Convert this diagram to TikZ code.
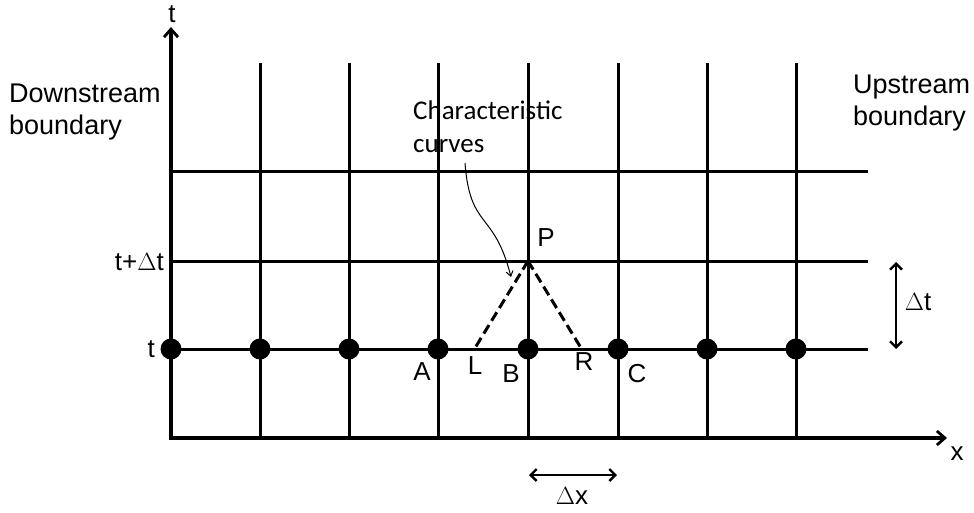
\documentclass[tikz,border=0pt]{standalone}
\usepackage{fontspec}
\setmainfont{Liberation Sans}
\newfontfamily\calib{Carlito}
\usetikzlibrary{arrows.meta}
\begin{document}
\begin{tikzpicture}[x=1pt,y=-1pt,
  grid/.style={line width=3pt},
  axis/.style={line width=3.6pt,-{Straight Barb[length=8pt,width=14pt,line width=2.8pt]}},
  dim/.style={line width=2.8pt,{Straight Barb[length=6pt,width=12pt,line width=2.4pt]}-{Straight Barb[length=6pt,width=12pt,line width=2.4pt]}},
  dot/.style={circle,fill=black,inner sep=0pt,minimum size=21pt},
  lab/.style={font=\fontsize{26}{30}\selectfont,inner sep=0pt},
  big/.style={font=\fontsize{27}{32}\selectfont,inner sep=0pt,align=left}]
\useasboundingbox (0,0) rectangle (974,512);
% grid
\foreach \i/\x in {1/260,2/349,3/438,4/528,5/618,6/707,7/796}{
  \coordinate (vt\i) at (\x,63);
  \coordinate (vb\i) at (\x,438);
  \draw[grid] (vt\i) -- (vb\i);
}
\foreach \j/\y in {1/171,2/261,3/349}{
  \coordinate (hl\j) at (171,\y);
  \coordinate (hr\j) at (868,\y);
  \draw[grid] (hl\j) -- (hr\j);
}
% axes
\coordinate (O) at (171,439.8);
\coordinate (tend) at (171,27);
\coordinate (xstart) at (169.2,438);
\coordinate (xend) at (947,438);
\draw[axis] (O) -- (tend);
\draw[axis] (xstart) -- (xend);
% dots
\foreach \i/\x in {0/171,1/260,2/349,3/438,4/528,5/618,6/707,7/796}{
  \node[dot] (d\i) at (\x,349) {};
}
% characteristic lines
\coordinate (P) at (528,261);
\coordinate (L) at (475,348);
\coordinate (R) at (581,348);
\draw[line width=3pt,dash pattern=on 10pt off 5pt] (P) -- (L);
\draw[line width=3pt,dash pattern=on 10pt off 5pt] (P) -- (R);
% labels
\node[lab] (lt) at (172,14) {t};
\node[lab,anchor=east] (ltdt) at (164,262) {t+$\Delta$t};
\node[lab,anchor=east] (lt0) at (155,349) {t};
\node[lab] (lA) at (422,372) {A};
\node[lab] (lL) at (475,366) {L};
\node[lab] (lB) at (511,374) {B};
\node[lab] (lR) at (584,362) {R};
\node[lab] (lC) at (637,374) {C};
\node[lab] (lP) at (546,238) {P};
\node[lab] (lx) at (957,454) {x};
\node[lab] (ldt) at (918,302) {$\Delta$t};
\node[lab] (ldx) at (572,496) {$\Delta$x};
\node[big,anchor=north west] (down) at (9,84) {Downstream\\boundary};
\node[big,anchor=north west] (up) at (853,75) {Upstream\\boundary};
\node[big,anchor=north west,font=\calib\fontsize{27}{33}\selectfont] (cc) at (413,101) {Characteristic\\curves};
% dimension arrows
\coordinate (dt1) at (896,262);
\coordinate (dt2) at (896,349);
\draw[dim] (dt1) -- (dt2);
\coordinate (dx1) at (529,475);
\coordinate (dx2) at (617,475);
\draw[dim] (dx1) -- (dx2);
% curved pointer
\coordinate (cs) at (465,163);
\coordinate (ce) at (511,277);
\draw[line width=1pt,-{Straight Barb[length=5pt,width=7pt]}] (cs) .. controls (470,230) and (494,210) .. (ce);
\end{tikzpicture}
\end{document}
